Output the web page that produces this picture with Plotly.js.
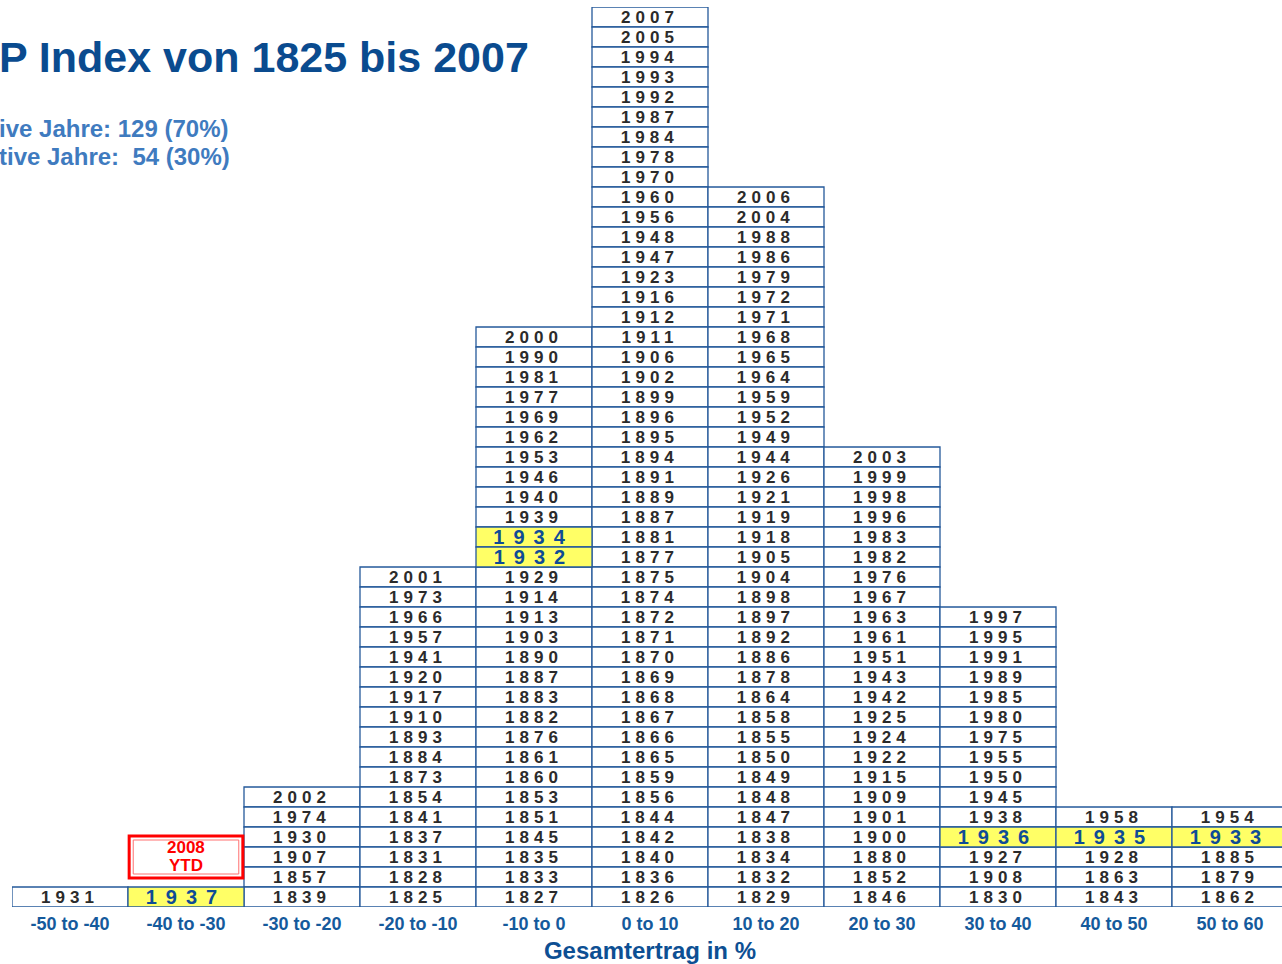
<!DOCTYPE html>
<html>
<head>
<meta charset="utf-8">
<script src="https://cdn.plot.ly/plotly-3.0.1.min.js"></script>
<style>
  html, body { margin: 0; padding: 0; overflow: hidden; background: #ffffff; }
  #chart { width: 1300px; height: 964px; }
  .barlayer .trace:nth-of-type(1) text.bartext { letter-spacing: 5px; }
  .barlayer .trace:nth-of-type(2) text.bartext { letter-spacing: 9px; }
</style>
</head>
<body>
<div id="chart"></div>
<script>
// Return buckets (x-axis categories)
const categories = ['-50 to -40', '-40 to -30', '-30 to -20', '-20 to -10', '-10 to 0',
                    '0 to 10', '10 to 20', '20 to 30', '30 to 40', '40 to 50', '50 to 60'];

// Years in each bucket, listed top to bottom as in the picture
const years_m50_m40 = ['1931'];
const years_m40_m30 = ['1937'];
const years_m30_m20 = ['2002','1974','1930','1907','1857','1839'];
const years_m20_m10 = ['2001','1973','1966','1957','1941','1920','1917','1910','1893','1884','1873',
                       '1854','1841','1837','1831','1828','1825'];
const years_m10_0   = ['2000','1990','1981','1977','1969','1962','1953','1946','1940','1939','1934',
                       '1932','1929','1914','1913','1903','1890','1887','1883','1882','1876','1861',
                       '1860','1853','1851','1845','1835','1833','1827'];
const years_0_10    = ['2007','2005','1994','1993','1992','1987','1984','1978','1970','1960','1956',
                       '1948','1947','1923','1916','1912','1911','1906','1902','1899','1896','1895',
                       '1894','1891','1889','1887','1881','1877','1875','1874','1872','1871','1870',
                       '1869','1868','1867','1866','1865','1859','1856','1844','1842','1840','1836','1826'];
const years_10_20   = ['2006','2004','1988','1986','1979','1972','1971','1968','1965','1964','1959',
                       '1952','1949','1944','1926','1921','1919','1918','1905','1904','1898','1897',
                       '1892','1886','1878','1864','1858','1855','1850','1849','1848','1847','1838',
                       '1834','1832','1829'];
const years_20_30   = ['2003','1999','1998','1996','1983','1982','1976','1967','1963','1961','1951',
                       '1943','1942','1925','1924','1922','1915','1909','1901','1900','1880','1852','1846'];
const years_30_40   = ['1997','1995','1991','1989','1985','1980','1975','1955','1950','1945','1938',
                       '1936','1927','1908','1830'];
const years_40_50   = ['1958','1935','1928','1863','1843'];
const years_50_60   = ['1954','1933','1885','1879','1862'];

// Highlighted (depression-era) years
const highlightYears = ['1937','1934','1932','1936','1935','1933'];

// Extra boxed label
const ytdCategory = '-40 to -30';
const ytdLines = ['2008', 'YTD'];

// Text
const titleText = 'P Index von 1825 bis 2007';
const subLine1 = 'ive Jahre: 129 (70%)';
const subLine2 = 'tive Jahre:\u00a0 54 (30%)';
const xTitle = 'Gesamtertrag in %';

const columns = [years_m50_m40, years_m40_m30, years_m30_m20, years_m20_m10, years_m10_0,
                 years_0_10, years_10_20, years_20_30, years_30_40, years_40_50, years_50_60];

const norm = {x: [], base: [], y: [], text: []};
const high = {x: [], base: [], y: [], text: []};
columns.forEach((col, ci) => {
  const n = col.length;
  col.forEach((yr, k) => {
    const t = highlightYears.includes(yr) ? high : norm;
    t.x.push(categories[ci]);
    t.base.push(n - 1 - k);
    t.y.push(1);
    t.text.push(yr);
  });
});

const borderColor = '#25599a';
const FONT = 'Liberation Sans, Arial, sans-serif';

const traceNormal = {
  type: 'bar', x: norm.x, y: norm.y, base: norm.base, text: norm.text,
  textposition: 'inside', insidetextanchor: 'middle', textangle: 0, constraintext: 'none',
  textfont: {family: FONT, size: 17, color: '#2b2b2b', weight: 'bold'},
  marker: {color: '#ffffff', line: {color: borderColor, width: 1.3}},
  hoverinfo: 'none', showlegend: false
};
const traceHigh = {
  type: 'bar', x: high.x, y: high.y, base: high.base, text: high.text,
  textposition: 'inside', insidetextanchor: 'middle', textangle: 0, constraintext: 'none',
  textfont: {family: FONT, size: 20, color: '#0f4c96', weight: 'bold'},
  marker: {color: '#ffff66', line: {color: borderColor, width: 1.3}},
  hoverinfo: 'none', showlegend: false
};

const ytdIdx = categories.indexOf(ytdCategory);

const layout = {
  width: 1300, height: 964,
  margin: {l: 12, r: 12, t: 7, b: 57},
  paper_bgcolor: '#ffffff', plot_bgcolor: '#ffffff',
  barmode: 'overlay', bargap: 0,
  showlegend: false,
  font: {family: FONT},
  xaxis: {
    type: 'category', categoryorder: 'array', categoryarray: categories,
    range: [-0.5, categories.length - 0.5],
    showgrid: false, zeroline: false, showline: false, ticks: '',
    ticklabelstandoff: 4,
    tickfont: {family: FONT, size: 18, color: '#155a9c', weight: 'bold'},
    title: {text: xTitle, font: {family: FONT, size: 24, color: '#0d4f93', weight: 'bold'}, standoff: 10},
    fixedrange: true
  },
  yaxis: {range: [0, 45], visible: false, fixedrange: true},
  shapes: [
    {type: 'rect', xref: 'x', yref: 'y', x0: ytdIdx - 0.49, x1: ytdIdx + 0.49, y0: 1.45, y1: 3.55,
     line: {color: '#ff0000', width: 3}, fillcolor: 'rgba(255,255,255,1)', layer: 'above'},
    {type: 'rect', xref: 'x', yref: 'y', x0: ytdIdx - 0.455, x1: ytdIdx + 0.455, y0: 1.65, y1: 3.35,
     line: {color: '#ff7070', width: 1}, layer: 'above'}
  ],
  annotations: [
    {xref: 'paper', yref: 'paper', x: -15/1276, y: (907 - 57)/900, xanchor: 'left', yanchor: 'middle',
     text: titleText, showarrow: false, font: {family: FONT, size: 43, color: '#0a4b8f', weight: 'bold'}},
    {xref: 'paper', yref: 'paper', x: -15/1276, y: (907 - 128)/900, xanchor: 'left', yanchor: 'middle',
     text: subLine1, showarrow: false, font: {family: FONT, size: 24, color: '#3f7bbf', weight: 'bold'}},
    {xref: 'paper', yref: 'paper', x: -15/1276, y: (907 - 157)/900, xanchor: 'left', yanchor: 'middle',
     text: subLine2, showarrow: false, font: {family: FONT, size: 24, color: '#3f7bbf', weight: 'bold'}},
    {xref: 'x', yref: 'y', x: ytdCategory, y: 2.99, text: ytdLines[0], showarrow: false, borderpad: 0,
     font: {family: FONT, size: 17, color: '#ff0000', weight: 'bold'}},
    {xref: 'x', yref: 'y', x: ytdCategory, y: 2.06, text: ytdLines[1], showarrow: false, borderpad: 0,
     font: {family: FONT, size: 17, color: '#ff0000', weight: 'bold'}}
  ]
};

Plotly.newPlot('chart', [traceNormal, traceHigh], layout, {displayModeBar: false, staticPlot: true});
</script>
</body>
</html>
